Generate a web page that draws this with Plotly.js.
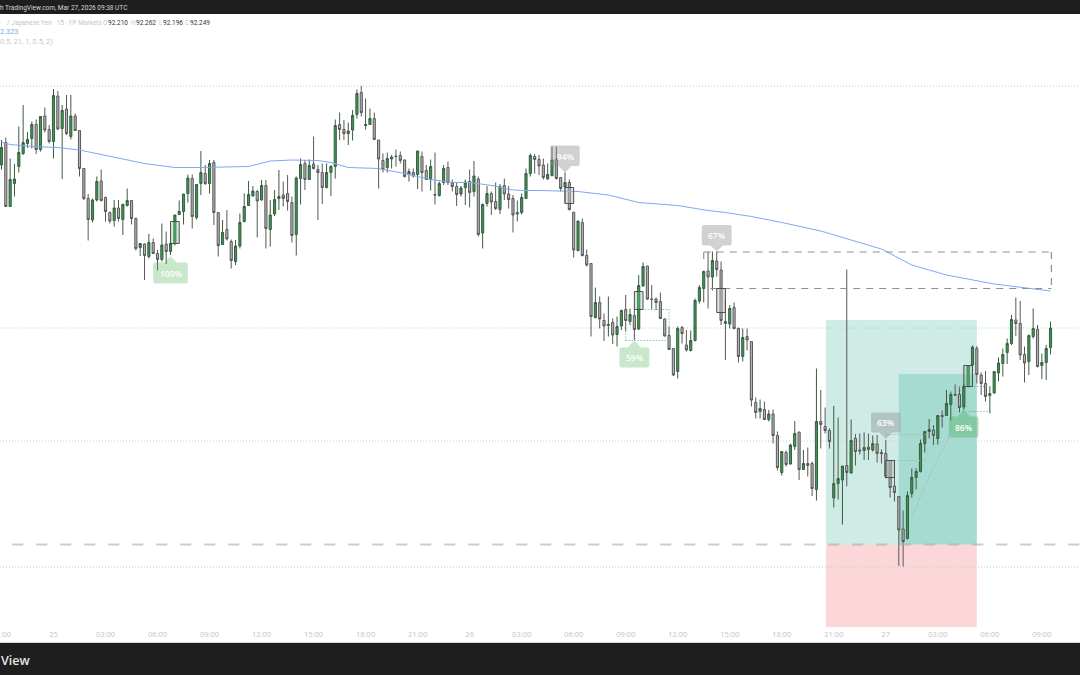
<!DOCTYPE html>
<html><head><meta charset="utf-8">
<script src="https://cdn.plot.ly/plotly-3.0.1.min.js"></script>
<style>html,body{margin:0;padding:0;background:#fff;overflow:hidden}#c{width:1080px;height:675px}</style>
</head><body><div id="c"></div>
<script>
// 15-minute bars, index 0 = Mar 25 00:00
const firstBar = -12;
const open = [92.575,92.620,92.492,92.538,92.572,92.598,92.618,92.628,92.656,92.606,92.673,92.646,
92.622,92.713,92.648,92.687,92.632,92.673,92.644,92.568,92.508,92.465,
92.505,92.543,92.510,92.480,92.464,92.489,92.466,92.494,92.504,92.468,
92.410,92.417,92.392,92.420,92.398,92.386,92.417,92.402,92.418,92.476,
92.482,92.518,92.548,92.470,92.538,92.558,92.538,92.580,92.480,92.416,
92.446,92.422,92.382,92.413,92.462,92.494,92.513,92.522,92.505,92.534,
92.446,92.477,92.508,92.515,92.518,92.500,92.436,92.548,92.578,92.546,
92.577,92.566,92.560,92.530,92.560,92.572,92.656,92.646,92.638,92.645,
92.676,92.720,92.654,92.656,92.668,92.625,92.584,92.570,92.587,92.593,
92.594,92.585,92.556,92.560,92.556,92.592,92.564,92.546,92.516,92.514,
92.540,92.570,92.539,92.532,92.517,92.530,92.542,92.522,92.547,92.439,
92.498,92.518,92.502,92.486,92.534,92.517,92.508,92.480,92.480,92.508,
92.558,92.592,92.586,92.575,92.547,92.554,92.586,92.550,92.531,92.540,
92.480,92.404,92.460,92.394,92.378,92.270,92.300,92.264,92.254,92.260,
92.236,92.253,92.286,92.262,92.274,92.247,92.333,92.373,92.307,92.307,
92.302,92.267,92.234,92.208,92.162,92.250,92.215,92.204,92.224,92.303,
92.328,92.363,92.351,92.383,92.365,92.262,92.257,92.290,92.248,92.192,
92.232,92.222,92.100,92.082,92.086,92.066,92.077,92.034,91.960,92.000,
91.977,92.012,92.041,91.966,91.978,91.978,91.926,92.062,92.052,92.044,
91.909,91.938,91.945,91.974,91.959,92.028,92.005,92.004,92.011,92.005,
92.017,92.000,91.998,91.984,91.933,91.912,91.847,91.828,91.918,91.950,
91.962,92.018,92.042,92.045,92.028,92.074,92.074,92.096,92.116,92.116,
92.091,92.132,92.175,92.208,92.155,92.138,92.114,92.119,92.159,92.178,
92.200,92.218,92.265,92.258,92.196,92.182,92.232,92.246,92.174,92.180,92.210];
const high = [92.625,92.630,92.588,92.577,92.652,92.695,92.641,92.662,92.666,92.673,92.690,92.655,
92.727,92.723,92.695,92.715,92.715,92.678,92.645,92.568,92.517,92.508,
92.552,92.566,92.512,92.482,92.505,92.505,92.498,92.528,92.504,92.470,
92.418,92.418,92.437,92.428,92.405,92.458,92.442,92.438,92.475,92.504,
92.517,92.556,92.556,92.536,92.603,92.575,92.585,92.585,92.480,92.465,
92.485,92.426,92.425,92.478,92.518,92.543,92.533,92.525,92.545,92.545,
92.505,92.525,92.565,92.542,92.555,92.512,92.552,92.588,92.585,92.586,
92.632,92.575,92.578,92.578,92.575,92.666,92.680,92.665,92.660,92.685,
92.726,92.733,92.708,92.688,92.680,92.625,92.598,92.600,92.595,92.606,
92.602,92.586,92.568,92.568,92.603,92.602,92.575,92.586,92.600,92.542,
92.575,92.582,92.546,92.540,92.533,92.546,92.566,92.583,92.552,92.498,
92.533,92.522,92.540,92.537,92.548,92.533,92.515,92.504,92.518,92.568,
92.598,92.597,92.595,92.588,92.578,92.612,92.612,92.550,92.560,92.546,
92.482,92.463,92.468,92.406,92.378,92.330,92.312,92.278,92.312,92.268,
92.272,92.286,92.315,92.288,92.288,92.355,92.380,92.373,92.335,92.310,
92.320,92.268,92.252,92.208,92.252,92.253,92.245,92.244,92.308,92.335,
92.364,92.402,92.402,92.402,92.382,92.305,92.295,92.300,92.250,92.248,
92.248,92.222,92.110,92.106,92.102,92.085,92.086,92.042,92.002,92.004,
92.018,92.063,92.041,92.005,92.010,91.982,92.168,92.125,92.090,92.048,
92.093,92.070,91.973,92.366,92.066,92.037,92.038,92.040,92.038,92.034,
92.035,92.006,92.025,91.985,91.985,91.913,91.884,91.922,91.968,91.968,
92.026,92.043,92.067,92.055,92.075,92.084,92.125,92.122,92.136,92.132,
92.137,92.175,92.214,92.213,92.160,92.163,92.132,92.162,92.190,92.208,
92.228,92.275,92.310,92.303,92.212,92.236,92.288,92.255,92.198,92.215,92.262];
const low = [92.566,92.492,92.492,92.512,92.560,92.595,92.609,92.608,92.597,92.602,92.640,92.618,
92.588,92.645,92.547,92.635,92.626,92.643,92.552,92.505,92.424,92.460,
92.502,92.502,92.462,92.458,92.452,92.462,92.435,92.492,92.456,92.404,
92.393,92.345,92.388,92.397,92.364,92.382,92.377,92.395,92.414,92.475,
92.456,92.500,92.448,92.466,92.515,92.535,92.518,92.455,92.392,92.415,
92.424,92.368,92.375,92.408,92.460,92.493,92.512,92.430,92.504,92.408,
92.412,92.473,92.485,92.492,92.484,92.420,92.394,92.496,92.525,92.545,
92.566,92.465,92.497,92.528,92.513,92.548,92.625,92.625,92.615,92.624,
92.668,92.672,92.646,92.655,92.625,92.528,92.560,92.560,92.568,92.572,
92.578,92.550,92.542,92.550,92.527,92.522,92.545,92.524,92.496,92.512,
92.535,92.535,92.522,92.493,92.512,92.495,92.490,92.512,92.432,92.408,
92.492,92.475,92.485,92.477,92.505,92.488,92.440,92.462,92.476,92.507,
92.552,92.558,92.555,92.546,92.546,92.552,92.546,92.522,92.498,92.484,
92.390,92.402,92.392,92.372,92.232,92.268,92.248,92.223,92.232,92.217,
92.212,92.245,92.242,92.255,92.225,92.245,92.332,92.305,92.286,92.285,
92.267,92.232,92.205,92.153,92.148,92.218,92.202,92.202,92.222,92.298,
92.300,92.288,92.324,92.352,92.255,92.185,92.248,92.246,92.180,92.182,
92.204,92.092,92.068,92.068,92.065,92.062,92.018,91.964,91.954,91.972,
91.976,92.005,91.945,91.965,91.952,91.913,91.904,92.008,92.038,92.008,
91.890,91.906,91.856,91.932,91.958,91.974,91.996,91.985,91.985,92.002,
91.980,91.978,91.948,91.910,91.902,91.773,91.772,91.826,91.910,91.926,
91.960,92.000,92.028,92.015,92.016,92.050,92.073,92.064,92.113,92.080,
92.085,92.130,92.132,92.138,92.115,92.102,92.078,92.118,92.142,92.152,
92.177,92.215,92.233,92.185,92.140,92.155,92.228,92.170,92.147,92.145,92.196];
const close = [92.610,92.492,92.546,92.547,92.600,92.620,92.626,92.656,92.606,92.672,92.645,92.622,
92.714,92.647,92.684,92.638,92.673,92.644,92.568,92.508,92.466,92.505,
92.542,92.504,92.482,92.463,92.489,92.468,92.496,92.504,92.468,92.408,
92.418,92.394,92.420,92.398,92.386,92.415,92.402,92.418,92.475,92.482,
92.517,92.549,92.472,92.536,92.560,92.538,92.578,92.480,92.414,92.440,
92.427,92.384,92.413,92.460,92.492,92.516,92.523,92.503,92.534,92.448,
92.475,92.506,92.512,92.508,92.502,92.434,92.549,92.576,92.546,92.574,
92.568,92.560,92.530,92.560,92.572,92.654,92.646,92.638,92.643,92.674,
92.718,92.680,92.656,92.668,92.626,92.587,92.566,92.588,92.591,92.592,
92.584,92.552,92.562,92.553,92.603,92.560,92.546,92.572,92.515,92.538,
92.568,92.540,92.532,92.516,92.529,92.541,92.520,92.553,92.436,92.496,
92.518,92.501,92.488,92.532,92.517,92.506,92.475,92.477,92.510,92.558,
92.594,92.586,92.573,92.550,92.556,92.585,92.548,92.528,92.540,92.486,
92.405,92.463,92.394,92.375,92.272,92.300,92.267,92.253,92.256,92.235,
92.252,92.284,92.264,92.276,92.246,92.334,92.372,92.307,92.306,92.300,
92.268,92.233,92.206,92.155,92.248,92.238,92.205,92.224,92.304,92.330,
92.362,92.351,92.384,92.366,92.264,92.258,92.288,92.248,92.192,92.230,
92.225,92.105,92.080,92.088,92.066,92.077,92.034,91.970,92.002,91.976,
92.015,92.038,91.966,91.978,91.974,91.928,92.062,92.056,92.044,92.022,
91.938,91.948,91.973,91.960,92.024,92.002,92.003,92.010,92.006,92.018,
91.998,91.998,91.952,91.930,91.920,91.845,91.822,91.914,91.950,91.962,
92.018,92.042,92.046,92.034,92.074,92.072,92.098,92.116,92.115,92.090,
92.132,92.173,92.211,92.156,92.138,92.112,92.118,92.162,92.179,92.196,
92.218,92.266,92.258,92.195,92.179,92.234,92.248,92.172,92.180,92.208,92.249];

const emaBars = [-12,-10,-5,1,6,13,21,28,34,45,50,55,61,64,68,75,81,87,92,96,102,105,108,112,121,128,135,144,151,155,161,168,177,184,191,198,206,217,225,230];
const emaValues = [92.620,92.616,92.612,92.610,92.605,92.592,92.578,92.570,92.570,92.572,92.583,92.585,92.584,92.580,92.570,92.568,92.558,92.546,92.540,92.540,92.533,92.526,92.524,92.524,92.522,92.515,92.500,92.494,92.484,92.480,92.472,92.460,92.443,92.425,92.407,92.375,92.355,92.337,92.329,92.323];

const tickBars = [-12,0,12,24,36,48,60,72,84,96,108,120,132,144,156,168,180,192,204,216,228];
const tickLabels = ["21:00","25","03:00","06:00","09:00","12:00","15:00","18:00","21:00","26","03:00","06:00","09:00","12:00","15:00","18:00","21:00","27","03:00","06:00","09:00"];

const bars = open.map((_, k) => firstBar + k);
const GREEN_TINT = 'rgba(120,200,150,0.35)', GREY_TINT = 'rgba(190,190,190,0.45)';
const DOT_GREEN = '#57b07e', DOT_GREY = '#a8a8a8', DASH = '#8f8f8f', DOTS = '1px,2px';

function hline(y, x0, x1, color, dash, width) {
  return {type:'line', xref:'x', yref:'y', x0:x0, x1:x1, y0:y, y1:y, layer:'below', line:{color:color, dash:dash, width:width}};
}
function seg(x0,y0,x1,y1,color,dash,width) {
  return {type:'line', xref:'x', yref:'y', x0:x0, x1:x1, y0:y0, y1:y1, line:{color:color, dash:dash, width:width}};
}
function zone(x0,x1,y0,y1,fill) {
  return {type:'rect', xref:'x', yref:'y', x0:x0, x1:x1, y0:y0, y1:y1, layer:'below', fillcolor:fill, line:{width:0}};
}
function hi(cx,y0,y1,fill) {
  return {type:'rect', xref:'x', yref:'y', x0:cx-1, x1:cx+1, y0:y0, y1:y1, fillcolor:fill, line:{color:'#4d4d4d', width:1}};
}
function callout(cx, top, bot, apex, hw, fill) {
  const p = 1.5, r = 0.5, ry = 0.004;
  const up = apex > top;
  let d = `M${cx-hw+r},${top} `;
  if (up) d += `L${cx-p},${top} L${cx},${apex} L${cx+p},${top} `;
  d += `L${cx+hw-r},${top} Q${cx+hw},${top} ${cx+hw},${top-ry} L${cx+hw},${bot+ry} Q${cx+hw},${bot} ${cx+hw-r},${bot} `;
  if (!up) d += `L${cx+p},${bot} L${cx},${apex} L${cx-p},${bot} `;
  d += `L${cx-hw+r},${bot} Q${cx-hw},${bot} ${cx-hw},${bot+ry} L${cx-hw},${top-ry} Q${cx-hw},${top} ${cx-hw+r},${top} Z`;
  return {type:'path', xref:'x', yref:'y', path:d, fillcolor:fill, line:{width:0}};
}
function band(y0,y1){return {type:'rect',xref:'paper',yref:'paper',x0:0,x1:1,y0:y0,y1:y1,fillcolor:'#1e1e1e',line:{width:0},layer:'above'};}

const PLOT_TOP=14, PLOT_BOT=628;
const py = v => (PLOT_BOT - v) / (PLOT_BOT - PLOT_TOP);
const LG = 'rgba(76,175,80,0.30)', LGD='rgba(70,170,90,0.38)', LK = 'rgba(140,140,140,0.40)';

const shapes = [
  zone(178.2,213,91.816,92.265,'rgba(8,153,129,0.2)'),
  zone(195,213,91.816,92.157,'rgba(8,153,129,0.2)'),
  zone(178.2,213,91.651,91.816,'rgba(242,54,69,0.2)'),
  hline(92.733,-12.34,236.8,'#c4c4c4',DOTS,1),
  hline(92.249,-12.34,236.8,'#a0dabb',DOTS,1),
  hline(92.023,-12.34,236.8,'#cdcdcd',DOTS,1),
  hline(91.771,-12.34,236.8,'#b4d0ca',DOTS,1),
  Object.assign(hline(91.816,-9.5,236.8,'#a9a9a9','11px,13px',2),{layer:'above',opacity:0.6}),
  // dashed box
  seg(150,92.401,230.2,92.401,DASH,'7px,6px',1.2),
  seg(151.5,92.328,230.2,92.328,DASH,'7px,6px',1.2),
  seg(230.2,92.401,230.2,92.328,DASH,'7px,6px',1.2),
  seg(150,92.401,150,92.375,DASH,'7px,6px',1.2),
  // dotted pattern legs
  seg(135,92.286,142,92.286,DOT_GREEN,DOTS,1),
  seg(142,92.286,142,92.224,DOT_GREEN,DOTS,1),
  seg(132,92.224,142,92.224,DOT_GREEN,DOTS,1),
  seg(132,92.224,132,92.245,DOT_GREEN,DOTS,1),
  seg(192,92.036,201.5,92.036,DOT_GREY,DOTS,1),
  seg(192,91.984,201.5,91.984,DOT_GREY,DOTS,1),
  seg(201.5,92.036,201.5,91.984,'#c4c4c4',DOTS,1),
  seg(211,92.132,216,92.132,DOT_GREEN,DOTS,1),
  seg(209.7,92.082,216,92.082,DOT_GREEN,DOTS,1),
  seg(216,92.132,216,92.082,DOT_GREEN,DOTS,1),
  seg(198,91.872,202,91.952,DOT_GREY,DOTS,1),
  seg(202,91.952,206.4,92.029,DOT_GREY,DOTS,1),
  seg(206.4,92.029,209,92.132,DOT_GREY,DOTS,1),
  // highlighted candles
  hi(28,92.462,92.418,GREEN_TINT),
  hi(119,92.530,92.498,GREY_TINT),
  hi(135,92.322,92.286,GREEN_TINT),
  hi(154,92.328,92.280,GREY_TINT),
  hi(193,91.984,91.950,GREY_TINT),
  hi(211,92.174,92.132,GREEN_TINT),
  // callouts
  callout(27,92.380,92.338,92.392,4.0,LG),
  callout(118,92.614,92.573,92.560,3.4,LK),
  callout(134,92.210,92.170,92.224,3.45,LG),
  callout(153,92.455,92.414,92.403,3.45,LK),
  callout(192,92.080,92.040,92.027,3.4,LK),
  callout(210,92.072,92.030,92.084,3.4,LGD),
  // header / footer
  band(py(14),py(0)),
  band(py(675),py(643)),
  {type:'line',xref:'paper',yref:'paper',x0:0,x1:1,y0:py(642.5),y1:py(642.5),line:{color:'#d9d9d9',width:1}}
];

function lbl(x,y,t){return {xref:'x',yref:'y',x:x,y:y,text:t,showarrow:false,font:{family:'Open Sans',size:8.5,color:'#ffffff',weight:600},xanchor:'center',yanchor:'middle'};}
function txt(x,yy,t,color,size,weight){return {xref:'paper',yref:'paper',x:x/1080,y:py(yy),text:t,showarrow:false,xanchor:'left',yanchor:'middle',borderpad:0,font:{family:'Roboto',size:size||7,color:color,weight:weight||400}};}

const annotations = [
  lbl(27,92.358,'100%'), lbl(118,92.593,'94%'), lbl(134,92.190,'59%'),
  lbl(153,92.434,'67%'), lbl(192,92.060,'63%'), lbl(210,92.051,'86%'),
  txt(-1,8,'h TradingView.com, Mar 27, 2026 09:38 UTC','#d6d6d6',6.5),
  txt(-1,22.7,'·','#c6c6c6',6.6),
  txt(6,22.7,'/ Japanese Yen · 15 · FP Markets','#c6c6c6',6.5),
  txt(101.5,22.7,'O','#c6c6c6',6.4), txt(106.5,22.7,'92.210','#333333',6.5),
  txt(130,22.7,'H','#c6c6c6',6.4), txt(134.5,22.7,'92.262','#333333',6.5),
  txt(158,22.7,'L','#c6c6c6',6.4), txt(161.5,22.7,'92.196','#333333',6.5),
  txt(184,22.7,'C','#c6c6c6',6.4), txt(188.5,22.7,'92.249','#333333',6.5),
  txt(-1,31.7,'2.323','#7ea6f4',7.3),
  txt(-1,41,'0.5, 21, 1, 0.5, 2)','#c8c8c8',7.4),
  {xref:'paper',yref:'paper',x:-1/1080,y:py(660.7),text:'View',showarrow:false,xanchor:'left',yanchor:'middle',font:{family:'Open Sans',size:12.5,color:'#e6e6e6',weight:600}}
];

Plotly.newPlot('c',[
  {type:'scatter',mode:'lines',x:emaBars,y:emaValues,line:{color:'#7fa8f5',width:1},hoverinfo:'skip',showlegend:false},
  {type:'candlestick',x:bars,open:open,high:high,low:low,close:close,showlegend:false,
   increasing:{line:{color:'#3e5a45',width:1},fillcolor:'#2f9e48'},
   decreasing:{line:{color:'#585858',width:1},fillcolor:'#b4b4b4'},whiskerwidth:0}
],{
  width:1080,height:675,margin:{l:0,r:0,t:PLOT_TOP,b:675-PLOT_BOT,pad:0},
  paper_bgcolor:'#ffffff',plot_bgcolor:'#ffffff',showlegend:false,
  xaxis:{type:'linear',range:[-12.34,236.8],rangeslider:{visible:false},showgrid:false,zeroline:false,showline:false,
         tickmode:'array',tickvals:tickBars,ticktext:tickLabels,ticks:'',ticklabeloverflow:'allow',tickangle:0,
         tickfont:{family:'Open Sans',size:7.5,color:'#c4c4c4'}},
  yaxis:{range:[91.649,92.877],visible:false,showgrid:false,zeroline:false,fixedrange:true},
  shapes:shapes,annotations:annotations,dragmode:false,hovermode:false
},{displayModeBar:false,staticPlot:true});
</script></body></html>
